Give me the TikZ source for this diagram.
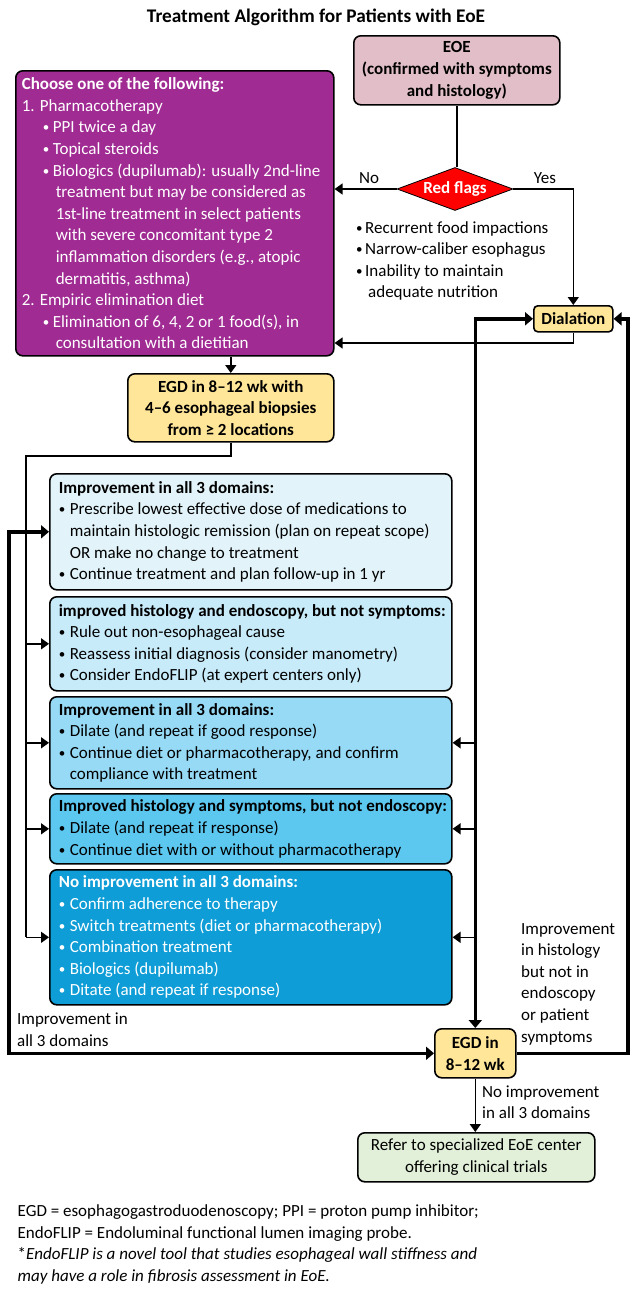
\documentclass[tikz,border=0pt]{standalone}
\usepackage{fontspec}
\setmainfont{Carlito}
\usetikzlibrary{shapes.geometric,arrows.meta}
\definecolor{cpurple}{HTML}{A02B93}
\definecolor{cpink}{HTML}{E2BFC8}
\definecolor{cyellow}{HTML}{FFE699}
\definecolor{cgreen}{HTML}{E2F0D9}
\definecolor{cbA}{HTML}{E2F4FA}
\definecolor{cbB}{HTML}{C8EBF9}
\definecolor{cbC}{HTML}{97DAF5}
\definecolor{cbD}{HTML}{5CC8F0}
\definecolor{cbE}{HTML}{0E9DD6}
\newcommand\myfs{\fontsize{17}{21.6}\selectfont}
\newcommand\mydot{\raisebox{1pt}{\fontsize{13}{13}\selectfont •}}
\newcommand\mybul{\makebox[11pt][l]{\mydot}}
\newcommand\myind{\hspace*{11pt}}
\newcommand\pbul{\hspace*{21pt}\makebox[10pt][l]{\mydot}}
\newcommand\pind{\hspace*{34pt}}
\newcommand\rbul{\makebox[9pt][l]{\mydot}}
\newcommand\wl[2]{\makebox[#1][l]{#2}}
\begin{document}
\begin{tikzpicture}[x=1pt,y=-1pt,
  bx/.style={draw=black, line width=1.6pt, rounded corners=7pt, anchor=north west, inner ysep=0pt, align=left, font=\myfs},
  ln/.style={line width=1.5pt},
  arr/.style={line width=1.5pt, -{Triangle[length=8pt,width=11pt]}},
  tk/.style={line width=3.5pt},
  tkarr/.style={line width=3.5pt, -{Triangle[length=8pt,width=13pt]}},
  tkboth/.style={line width=3.5pt, {Triangle[length=8pt,width=13pt]}-{Triangle[length=8pt,width=13pt]}},
  lbl/.style={font=\myfs, align=left, inner sep=0pt, anchor=west},
]
\useasboundingbox (0,0) rectangle (636,1299);
\fill[white] (0,0) rectangle (636,1299);

\node[font=\fontsize{19.3}{22}\selectfont\bfseries] (title) at (316,17) {Treatment Algorithm for Patients with EoE};

\node[bx, fill=cpink, minimum width=206pt, minimum height=69pt, inner xsep=3pt, align=center, font=\myfs\bfseries] (eoe) at (353,35) {EOE\\(confirmed with symptoms\\and histology)};

\node[diamond, draw=black, line width=0.8pt, fill=red, minimum width=116pt, minimum height=43pt, inner sep=0pt, aspect=2.7, text=white, font=\myfs\bfseries] (rf) at (455,189) {Red flags};

\node[font=\myfs] (no) at (369,178) {No};
\node[font=\myfs] (yes) at (545,178) {Yes};

\node[lbl] (rfl) at (356,261) {\rbul Recurrent food impactions\\
\rbul Narrow-caliber esophagus\\
\rbul Inability to maintain\\
\hspace*{12pt}adequate nutrition};

\node[bx, fill=cpurple, text=white, minimum width=318pt, minimum height=285pt, inner xsep=6pt] (purple) at (15,70) {\wl{306pt}{\textbf{Choose one of the following:}}\\
1. Pharmacotherapy\\
\pbul PPI twice a day\\
\pbul Topical steroids\\
\pbul Biologics (dupilumab): usually 2nd-line\\
\pind treatment but may be considered as\\
\pind 1st-line treatment in select patients\\
\pind with severe concomitant type 2\\
\pind inflammation disorders (e.g., atopic\\
\pind dermatitis, asthma)\\
2. Empiric elimination diet\\
\pbul Elimination of 6, 4, 2 or 1 food(s), in\\
\pind consultation with a dietitian};

\node[bx, rounded corners=4pt, fill=cyellow, minimum width=79pt, minimum height=26pt, inner xsep=0pt, align=center, font=\myfs\bfseries] (dial) at (533,305) {Dialation};

\node[bx, fill=cyellow, minimum width=206pt, minimum height=68pt, inner xsep=3pt, align=center, font=\myfs\bfseries] (egd1) at (127,373) {EGD in 8–12 wk with\\4–6 esophageal biopsies\\from ≥ 2 locations};

\node[bx, fill=cbA, minimum width=402pt, minimum height=116pt, inner xsep=9pt] (b1) at (49,473) {\wl{384pt}{\textbf{Improvement in all 3 domains:}}\\
\mybul Prescribe lowest effective dose of medications to\\
\myind maintain histologic remission (plan on repeat scope)\\
\myind OR make no change to treatment\\
\mybul Continue treatment and plan follow-up in 1 yr};

\node[bx, fill=cbB, minimum width=402pt, minimum height=94pt, inner xsep=9pt] (b2) at (49,596) {\wl{384pt}{\textbf{improved histology and endoscopy, but not symptoms:}}\\
\mybul Rule out non-esophageal cause\\
\mybul Reassess initial diagnosis (consider manometry)\\
\mybul Consider EndoFLIP (at expert centers only)};

\node[bx, fill=cbC, minimum width=402pt, minimum height=92pt, inner xsep=9pt] (b3) at (49,696) {\wl{384pt}{\textbf{Improvement in all 3 domains:}}\\
\mybul Dilate (and repeat if good response)\\
\mybul Continue diet or pharmacotherapy, and confirm\\
\myind compliance with treatment};

\node[bx, fill=cbD, minimum width=402pt, minimum height=70pt, inner xsep=9pt] (b4) at (49,793) {\wl{384pt}{\textbf{Improved histology and symptoms, but not endoscopy:}}\\
\mybul Dilate (and repeat if response)\\
\mybul Continue diet with or without pharmacotherapy};

\node[bx, fill=cbE, text=white, minimum width=402pt, minimum height=135pt, inner xsep=9pt] (b5) at (49,869) {\wl{384pt}{\textbf{No improvement in all 3 domains:}}\\
\mybul Confirm adherence to therapy\\
\mybul Switch treatments (diet or pharmacotherapy)\\
\mybul Combination treatment\\
\mybul Biologics (dupilumab)\\
\mybul Ditate (and repeat if response)};

\node[bx, fill=cyellow, minimum width=81pt, minimum height=49pt, inner xsep=0pt, align=center, font=\myfs\bfseries] (egd2) at (434,1028) {EGD in\\8–12 wk};

\node[bx, fill=cgreen, minimum width=237pt, minimum height=49pt, inner xsep=0pt, align=center] (refer) at (357,1132) {Refer to specialized EoE center\\offering clinical trials};

\node[lbl] (lblr) at (521,984) {Improvement\\in histology\\but not in\\endoscopy\\or patient\\symptoms};
\node[lbl] (lbll) at (17,1030) {Improvement in\\all 3 domains};
\node[lbl] (lbln) at (482,1102) {No improvement\\in all 3 domains};
\node[lbl] (foot) at (17.5,1244.5) {EGD = esophagogastroduodenoscopy; PPI = proton pump inhibitor;\\
EndoFLIP = Endoluminal functional lumen imaging probe.\\
*\textit{EndoFLIP is a novel tool that studies esophageal wall stiffness and}\\
\textit{may have a role in fibrosis assessment in EoE.}};

% connectors
\coordinate (y343) at (0,343);
\coordinate (lt) at (26,456);
\coordinate (lx) at (9,0);
\coordinate (rx) at (628,0);

\draw[ln] (eoe.south) -- (eoe.south |- rf.north);
\draw[arr] (rf.west) -- (rf.west -| purple.east);
\draw[arr] (rf.east) -| (dial.north);
\draw[arr] (dial.south) -- (dial.south |- y343) -- (purple.east |- y343);
\draw[arr] (egd1.north |- purple.south) -- (egd1.north);
\draw[ln] (egd1.south) |- (lt) -- (lt |- b5.west);
\foreach \b in {b2,b3,b4,b5} \draw[arr] (lt |- \b.west) -- (\b.west);
\draw[tkboth] (b1.west) -- (lx |- b1.west) -- (lx |- egd2.west) -- (egd2.west);
\draw[tkboth] (dial.west) -| (egd2.north);
\foreach \b in {b3,b4,b5} \draw[arr] (egd2.north |- \b.east) -- (\b.east);
\draw[tkarr] (egd2.east) -| (rx |- dial.east) -- (dial.east);
\draw[arr] (egd2.south) -- (egd2.south |- refer.north);
\end{tikzpicture}
\end{document}
